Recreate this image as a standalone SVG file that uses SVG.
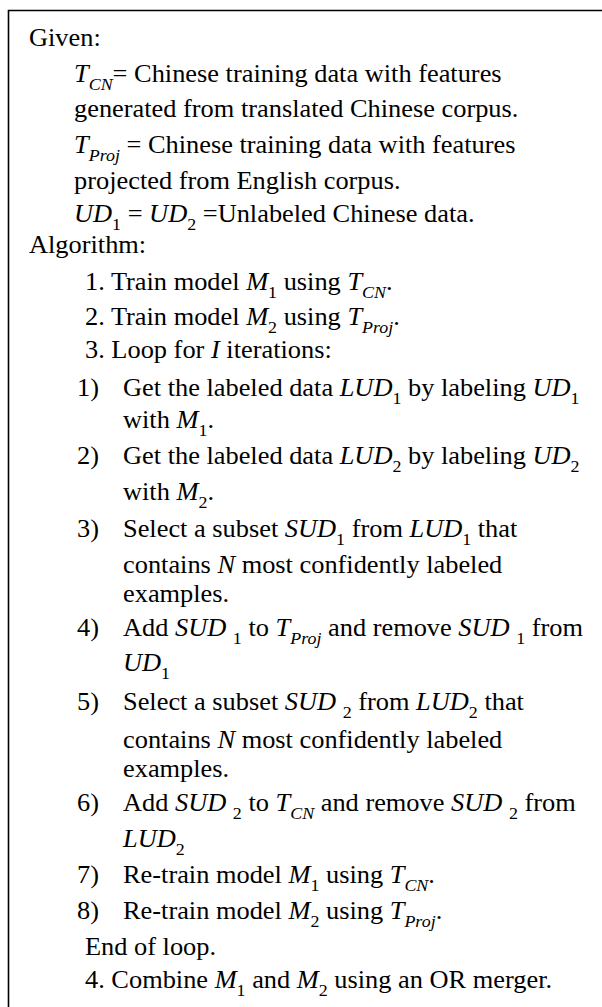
<svg xmlns="http://www.w3.org/2000/svg" width="602" height="1007" viewBox="0 0 602 1007">
  <style>
    .t { font-family: "Liberation Serif", "Times New Roman", serif; font-size: 25px; fill: #000; }
    .i { font-style: italic; }
    .s { font-size: 17px; }
    .frame { fill: none; stroke: #000; stroke-width: 1.6; }
  </style>
  <rect width="602" height="1007" fill="#fff"/>
  <!-- outer frame: left and top edges; the box runs off the right and bottom -->
  <path class="frame" d="M8.5 1007 V10.5 H602"/>

  <g id="given" class="t">
    <text transform="translate(29 46) scale(1.055 1)">Given:</text>
    <text transform="translate(74 82) scale(1.055 1)"><tspan class="i">T</tspan><tspan class="s i" dy="8">CN</tspan><tspan dy="-8">= Chinese training data with features</tspan></text>
    <text transform="translate(74 117) scale(1.055 1)">generated from translated Chinese corpus.</text>
    <text transform="translate(74 153) scale(1.055 1)"><tspan class="i">T</tspan><tspan class="s i" dy="8">Proj</tspan><tspan dy="-8"> = Chinese training data with features</tspan></text>
    <text transform="translate(74 189) scale(1.055 1)">projected from English corpus.</text>
    <text transform="translate(74 222) scale(1.055 1)"><tspan class="i">UD</tspan><tspan class="s" dy="8">1</tspan><tspan dy="-8"> = </tspan><tspan class="i">UD</tspan><tspan class="s" dy="8">2</tspan><tspan dy="-8"> =Unlabeled Chinese data.</tspan></text>
  </g>

  <g id="algorithm" class="t">
    <text transform="translate(29 253) scale(1.055 1)">Algorithm:</text>
    <text transform="translate(85 290) scale(1.055 1)">1. Train model <tspan class="i">M</tspan><tspan class="s" dy="8">1</tspan><tspan dy="-8"> using </tspan><tspan class="i">T</tspan><tspan class="s i" dy="8">CN</tspan><tspan dy="-8">.</tspan></text>
    <text transform="translate(85 325) scale(1.055 1)">2. Train model <tspan class="i">M</tspan><tspan class="s" dy="8">2</tspan><tspan dy="-8"> using </tspan><tspan class="i">T</tspan><tspan class="s i" dy="8">Proj</tspan><tspan dy="-8">.</tspan></text>
    <text transform="translate(85 358) scale(1.055 1)">3. Loop for <tspan class="i">I</tspan> iterations:</text>
  </g>

  <g id="loop" class="t">
    <text transform="translate(77 396) scale(1.055 1)">1)<tspan x="43.6">Get the labeled data </tspan><tspan class="i">LUD</tspan><tspan class="s" dy="8">1</tspan><tspan dy="-8"> by labeling </tspan><tspan class="i">UD</tspan><tspan class="s" dy="8">1</tspan></text>
    <text transform="translate(123 428) scale(1.055 1)">with <tspan class="i">M</tspan><tspan class="s" dy="8">1</tspan><tspan dy="-8">.</tspan></text>
    <text transform="translate(77 464) scale(1.055 1)">2)<tspan x="43.6">Get the labeled data </tspan><tspan class="i">LUD</tspan><tspan class="s" dy="8">2</tspan><tspan dy="-8"> by labeling </tspan><tspan class="i">UD</tspan><tspan class="s" dy="8">2</tspan></text>
    <text transform="translate(123 500) scale(1.055 1)">with <tspan class="i">M</tspan><tspan class="s" dy="8">2</tspan><tspan dy="-8">.</tspan></text>
    <text transform="translate(77 537) scale(1.055 1)">3)<tspan x="43.6">Select a subset </tspan><tspan class="i">SUD</tspan><tspan class="s" dy="8">1</tspan><tspan dy="-8"> from </tspan><tspan class="i">LUD</tspan><tspan class="s" dy="8">1</tspan><tspan dy="-8"> that</tspan></text>
    <text transform="translate(123 573) scale(1.055 1)">contains <tspan class="i">N</tspan> most confidently labeled</text>
    <text transform="translate(123 602) scale(1.055 1)">examples.</text>
    <text transform="translate(77 636) scale(1.055 1)">4)<tspan x="43.6">Add </tspan><tspan class="i">SUD </tspan><tspan class="s" dy="8">1</tspan><tspan dy="-8"> to </tspan><tspan class="i">T</tspan><tspan class="s i" dy="8">Proj</tspan><tspan dy="-8"> and remove </tspan><tspan class="i">SUD </tspan><tspan class="s" dy="8">1</tspan><tspan dy="-8"> from</tspan></text>
    <text transform="translate(123 671) scale(1.055 1)"><tspan class="i">UD</tspan><tspan class="s" dy="8">1</tspan></text>
    <text transform="translate(77 710) scale(1.055 1)">5)<tspan x="43.6">Select a subset </tspan><tspan class="i">SUD </tspan><tspan class="s" dy="8">2</tspan><tspan dy="-8"> from </tspan><tspan class="i">LUD</tspan><tspan class="s" dy="8">2</tspan><tspan dy="-8"> that</tspan></text>
    <text transform="translate(123 748) scale(1.055 1)">contains <tspan class="i">N</tspan> most confidently labeled</text>
    <text transform="translate(123 777) scale(1.055 1)">examples.</text>
    <text transform="translate(77 811) scale(1.055 1)">6)<tspan x="43.6">Add </tspan><tspan class="i">SUD </tspan><tspan class="s" dy="8">2</tspan><tspan dy="-8"> to </tspan><tspan class="i">T</tspan><tspan class="s i" dy="8">CN</tspan><tspan dy="-8"> and remove </tspan><tspan class="i">SUD </tspan><tspan class="s" dy="8">2</tspan><tspan dy="-8"> from</tspan></text>
    <text transform="translate(123 847) scale(1.055 1)"><tspan class="i">LUD</tspan><tspan class="s" dy="8">2</tspan></text>
    <text transform="translate(77 883) scale(1.055 1)">7)<tspan x="43.6">Re-train model </tspan><tspan class="i">M</tspan><tspan class="s" dy="8">1</tspan><tspan dy="-8"> using </tspan><tspan class="i">T</tspan><tspan class="s i" dy="8">CN</tspan><tspan dy="-8">.</tspan></text>
    <text transform="translate(77 919) scale(1.055 1)">8)<tspan x="43.6">Re-train model </tspan><tspan class="i">M</tspan><tspan class="s" dy="8">2</tspan><tspan dy="-8"> using </tspan><tspan class="i">T</tspan><tspan class="s i" dy="8">Proj</tspan><tspan dy="-8">.</tspan></text>
  </g>

  <g id="finish" class="t">
    <text transform="translate(85 955) scale(1.055 1)">End of loop.</text>
    <text transform="translate(85 988) scale(1.055 1)">4. Combine <tspan class="i">M</tspan><tspan class="s" dy="8">1</tspan><tspan dy="-8"> and </tspan><tspan class="i">M</tspan><tspan class="s" dy="8">2</tspan><tspan dy="-8"> using an OR merger.</tspan></text>
  </g>
</svg>
